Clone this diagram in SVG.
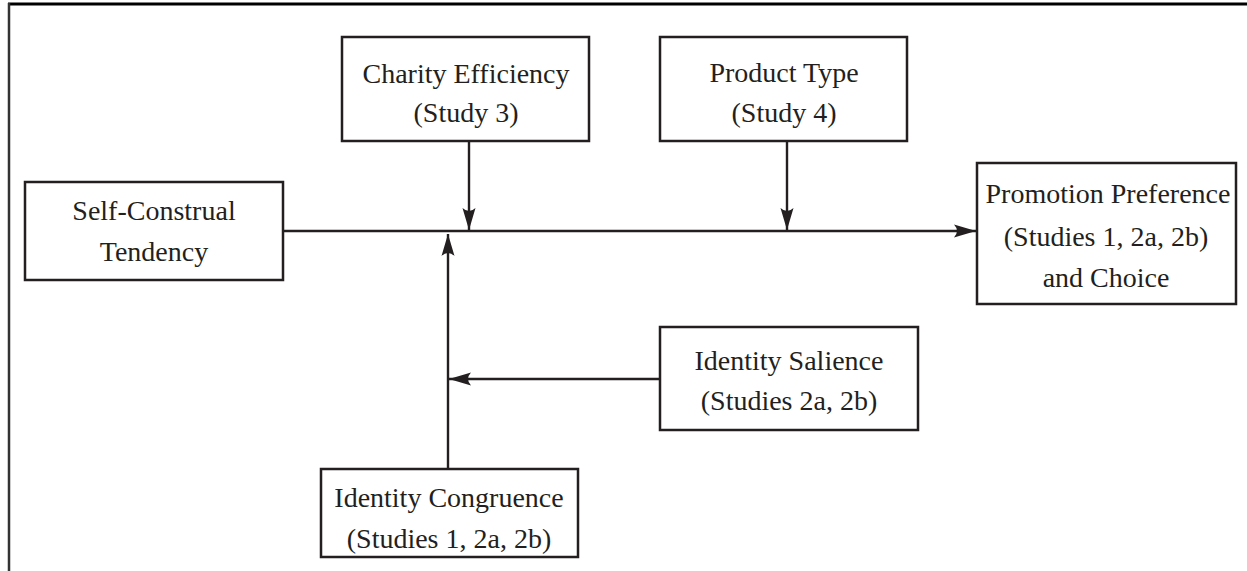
<svg xmlns="http://www.w3.org/2000/svg" width="1247" height="571" viewBox="0 0 1247 571">
  <style>
    .box { fill: #ffffff; stroke: #231f20; stroke-width: 2.5; }
    .lbl { font-family: "Liberation Serif", "Times New Roman", serif; font-size: 28px; fill: #231f20; text-anchor: middle; }
    .conn { stroke: #231f20; stroke-width: 2.4; fill: none; }
  </style>
  <defs>
    <marker id="arr" viewBox="0 0 22 14" refX="22" refY="7" markerWidth="22" markerHeight="14" markerUnits="userSpaceOnUse" orient="auto">
      <path d="M22,7 L0,0.5 Q6,7 0,13.5 Z" fill="#231f20"/>
    </marker>
  </defs>
  <rect x="0" y="0" width="1247" height="571" fill="#ffffff"/>
  <g id="frame">
    <line x1="8" y1="4" x2="1247" y2="4" stroke="#000" stroke-width="3"/>
    <line x1="9" y1="3" x2="9" y2="571" stroke="#333" stroke-width="2.5"/>
  </g>
  <g id="connectors">
    <line class="conn" x1="283" y1="231" x2="976" y2="231" marker-end="url(#arr)"/>
    <line class="conn" x1="469" y1="141" x2="469" y2="230" marker-end="url(#arr)"/>
    <line class="conn" x1="787" y1="141" x2="787" y2="230" marker-end="url(#arr)"/>
    <line class="conn" x1="660" y1="379" x2="449" y2="379" marker-end="url(#arr)"/>
    <line class="conn" x1="448" y1="469" x2="448" y2="234" marker-end="url(#arr)"/>
  </g>
  <g id="self-construal">
    <rect class="box" x="25" y="182" width="258" height="98"/>
    <text class="lbl" x="154" y="220">Self-Construal</text>
    <text class="lbl" x="154" y="261">Tendency</text>
  </g>
  <g id="charity-efficiency">
    <rect class="box" x="342" y="37" width="247" height="104"/>
    <text class="lbl" x="466" y="83">Charity Efficiency</text>
    <text class="lbl" x="466" y="122">(Study 3)</text>
  </g>
  <g id="product-type">
    <rect class="box" x="660" y="37" width="247" height="104"/>
    <text class="lbl" x="784" y="82">Product Type</text>
    <text class="lbl" x="784" y="122">(Study 4)</text>
  </g>
  <g id="promotion-preference">
    <rect class="box" x="977" y="163" width="259" height="141"/>
    <text class="lbl" x="1108" y="203">Promotion Preference</text>
    <text class="lbl" x="1106" y="246">(Studies 1, 2a, 2b)</text>
    <text class="lbl" x="1106" y="287">and Choice</text>
  </g>
  <g id="identity-salience">
    <rect class="box" x="660" y="327" width="258" height="103"/>
    <text class="lbl" x="789" y="370">Identity Salience</text>
    <text class="lbl" x="789" y="410">(Studies 2a, 2b)</text>
  </g>
  <g id="identity-congruence">
    <rect class="box" x="321" y="469" width="257" height="88"/>
    <text class="lbl" x="449" y="507">Identity Congruence</text>
    <text class="lbl" x="449" y="548">(Studies 1, 2a, 2b)</text>
  </g>
</svg>
